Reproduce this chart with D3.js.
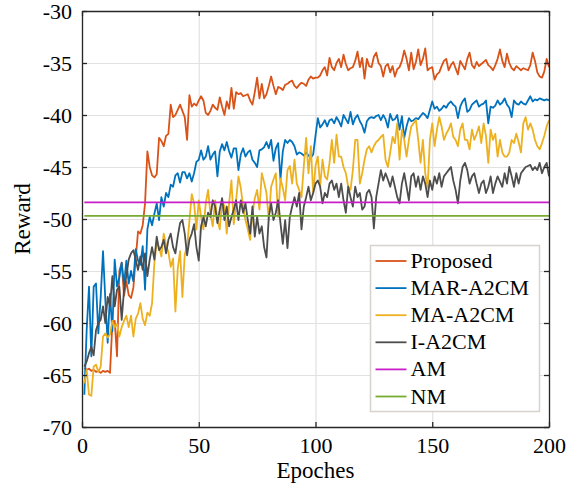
<!DOCTYPE html>
<html>
<head>
<meta charset="utf-8">
<script src="https://cdn.jsdelivr.net/npm/d3@7"></script>
<style>
  body { margin: 0; background: #fff; }
  text { font-family: "Liberation Serif", "Times New Roman", serif; fill: #000; }
</style>
</head>
<body>
<svg id="chart"></svg>
<script>
// chart size
const width = 571;
const height = 486;
const margin = { top: 11, right: 22, bottom: 59, left: 82 };

// data (epochs 1..200)
const epochs = d3.range(1, 201);
const xTicks = [0, 50, 100, 150, 200];
const yTicks = [-70, -65, -60, -55, -50, -45, -40, -35, -30];

const proposed = [
  -64.3,-64.5,-64.4,-64.6,-64.5,-64.7,-64.6,-64.8,-64.6,-64.7,
  -64.6,-64.8,-60.0,-59.8,-63.2,-55.0,-54.2,-57.4,-56.0,-57.3,
  -57.6,-56.6,-53.8,-51.2,-51.4,-50.6,-48.5,-43.5,-45.0,-45.8,
  -46.0,-45.7,-42.2,-42.5,-43.0,-42.0,-41.8,-39.0,-40.2,-40.0,
  -39.5,-39.0,-39.6,-40.2,-42.4,-38.1,-39.2,-38.9,-39.1,-38.6,
  -38.2,-38.6,-39.8,-40.0,-39.6,-39.0,-39.3,-39.5,-38.3,-39.2,
  -40.0,-38.7,-39.4,-37.4,-39.4,-37.8,-38.0,-37.9,-38.2,-38.1,
  -38.0,-38.6,-39.0,-37.8,-36.4,-38.4,-37.0,-38.4,-38.0,-37.2,
  -36.3,-37.2,-38.0,-37.3,-37.4,-37.6,-37.1,-37.0,-36.8,-36.7,
  -37.2,-37.4,-37.1,-36.9,-37.0,-37.2,-36.6,-36.3,-36.5,-36.4,
  -36.4,-36.2,-35.7,-35.4,-36.2,-34.5,-35.4,-35.7,-35.0,-34.6,
  -35.4,-34.2,-35.1,-35.7,-35.5,-35.4,-34.8,-33.9,-35.4,-34.5,
  -36.5,-34.6,-35.3,-35.4,-34.4,-34.0,-35.0,-35.3,-36.3,-35.3,
  -35.1,-35.9,-35.3,-36.3,-35.6,-35.4,-34.8,-33.8,-34.6,-35.7,
  -34.0,-35.6,-34.9,-33.7,-35.2,-34.6,-33.6,-35.7,-35.5,-35.4,
  -36.6,-36.1,-35.9,-35.3,-34.8,-34.6,-35.7,-35.2,-34.9,-35.5,
  -36.1,-34.8,-35.2,-35.6,-34.6,-34.0,-35.2,-35.5,-34.9,-35.3,
  -35.1,-34.9,-34.7,-35.2,-35.4,-35.7,-35.2,-34.6,-33.7,-34.8,
  -35.4,-34.1,-35.0,-35.5,-35.7,-35.3,-35.5,-35.7,-35.5,-35.6,
  -35.7,-35.2,-34.0,-34.8,-35.9,-36.3,-36.4,-35.8,-34.6,-35.4
];

const marA2cm = [
  -66.9,-60.7,-56.5,-63.2,-56.5,-56.2,-61.0,-57.5,-53.1,-57.8,
  -61.9,-57.2,-60.8,-53.9,-56.5,-55.6,-54.2,-56.3,-54.0,-56.2,
  -55.0,-56.0,-52.9,-54.0,-54.4,-52.6,-56.8,-51.0,-49.8,-50.6,
  -49.5,-48.5,-50.1,-47.9,-48.8,-47.5,-47.9,-46.7,-46.9,-45.8,
  -45.6,-46.5,-45.5,-45.5,-46.1,-45.6,-46.4,-45.6,-44.5,-44.3,
  -43.4,-44.3,-44.0,-43.0,-44.3,-43.8,-43.5,-45.9,-43.5,-42.8,
  -43.4,-42.6,-43.5,-44.1,-43.2,-43.2,-45.3,-43.8,-43.2,-44.0,
  -43.6,-43.4,-44.3,-44.6,-45.0,-43.4,-43.3,-43.1,-42.6,-43.2,
  -42.4,-44.4,-43.2,-42.7,-46.2,-43.5,-42.4,-42.7,-42.4,-42.6,
  -43.0,-43.8,-43.6,-43.7,-43.9,-43.6,-43.9,-44.1,-43.8,-42.0,
  -40.3,-41.2,-40.9,-40.5,-41.1,-40.5,-40.4,-40.8,-40.2,-40.6,
  -41.1,-40.0,-40.4,-40.8,-39.7,-40.9,-40.3,-40.0,-40.6,-41.0,
  -41.7,-40.6,-40.3,-40.2,-40.3,-40.1,-40.0,-40.5,-40.0,-40.4,
  -41.2,-39.9,-40.5,-40.4,-40.0,-41.4,-40.1,-42.2,-41.1,-40.3,
  -40.6,-40.5,-40.3,-40.4,-40.1,-39.8,-40.0,-40.3,-39.5,-38.7,
  -39.4,-39.2,-39.6,-39.4,-39.1,-39.3,-38.9,-38.7,-39.0,-39.2,
  -40.3,-39.2,-38.7,-38.4,-39.7,-39.5,-39.0,-38.8,-38.6,-39.2,
  -39.0,-38.9,-38.6,-40.8,-39.2,-39.3,-39.1,-38.6,-39.0,-38.8,
  -38.4,-39.0,-39.3,-40.2,-38.6,-38.9,-39.0,-38.7,-38.9,-39.0,
  -38.6,-38.2,-38.7,-38.5,-38.6,-38.4,-38.5,-38.6,-38.5,-38.6
];

const maA2cm = [
  -65.8,-64.5,-66.9,-67.0,-64.2,-64.0,-64.7,-64.2,-61.3,-61.0,
  -61.4,-61.1,-59.8,-60.4,-60.1,-61.3,-60.4,-59.8,-59.3,-60.4,
  -59.3,-61.3,-59.6,-59.1,-58.1,-59.6,-60.2,-59.0,-59.3,-58.1,
  -54.2,-52.3,-52.7,-53.6,-51.4,-52.5,-53.2,-54.6,-53.8,-58.9,
  -54.8,-53.1,-57.5,-53.4,-52.7,-50.2,-47.6,-48.5,-51.0,-48.2,
  -49.8,-51.0,-48.5,-47.2,-49.5,-50.7,-48.2,-50.1,-51.0,-48.2,
  -48.8,-51.4,-48.5,-46.3,-50.5,-48.2,-45.9,-47.0,-48.8,-50.1,
  -51.0,-52.0,-49.5,-48.0,-47.2,-49.1,-45.6,-46.5,-47.5,-50.1,
  -46.9,-46.2,-45.6,-49.8,-46.1,-47.0,-48.2,-45.3,-44.9,-46.6,
  -44.3,-46.6,-47.2,-47.9,-44.9,-42.2,-45.6,-43.0,-47.5,-44.9,
  -44.0,-46.9,-44.3,-45.9,-46.2,-44.6,-42.4,-44.6,-41.9,-44.0,
  -44.0,-45.0,-45.6,-46.9,-47.2,-45.3,-42.4,-42.4,-46.6,-45.6,
  -44.3,-43.3,-43.0,-43.6,-43.0,-42.6,-42.4,-42.1,-41.9,-44.3,
  -45.0,-43.6,-42.1,-42.7,-40.8,-44.3,-41.4,-42.4,-44.0,-42.4,
  -41.1,-40.8,-40.5,-42.4,-44.6,-42.4,-45.6,-47.0,-42.4,-40.8,
  -43.0,-41.4,-40.2,-41.1,-42.4,-41.8,-41.4,-40.8,-42.1,-42.4,
  -43.0,-41.4,-40.8,-42.4,-42.4,-43.3,-41.4,-42.4,-41.8,-41.1,
  -42.7,-40.8,-42.0,-44.6,-41.4,-42.4,-41.8,-44.0,-42.4,-43.6,
  -44.0,-44.0,-43.6,-42.4,-42.7,-41.8,-42.6,-43.6,-40.8,-40.2,
  -41.4,-40.8,-41.4,-42.4,-43.0,-43.3,-42.7,-42.0,-41.1,-40.5
];

const iA2cm = [
  -64.2,-63.7,-62.9,-62.3,-63.1,-60.7,-60.0,-59.7,-58.4,-60.0,
  -57.5,-58.4,-55.5,-58.4,-56.8,-56.5,-59.7,-56.8,-55.5,-53.9,
  -53.3,-53.0,-53.9,-54.9,-53.6,-54.9,-53.3,-55.5,-53.9,-52.7,
  -53.9,-51.7,-53.0,-52.7,-52.0,-53.3,-52.0,-51.4,-52.7,-53.3,
  -51.7,-50.4,-50.1,-51.4,-53.5,-52.0,-51.4,-50.5,-52.7,-54.0,
  -50.7,-49.8,-50.7,-49.4,-49.8,-48.2,-48.8,-50.4,-49.1,-48.0,
  -50.1,-48.8,-50.7,-49.8,-49.1,-48.2,-50.1,-48.2,-49.4,-48.5,
  -50.1,-51.4,-48.8,-51.7,-49.8,-51.4,-50.7,-52.7,-53.7,-49.8,
  -48.5,-50.1,-49.4,-48.2,-50.4,-52.4,-50.1,-52.8,-49.8,-48.8,
  -47.9,-48.8,-47.5,-51.0,-48.8,-47.9,-46.9,-48.2,-47.5,-46.6,
  -46.3,-46.9,-48.5,-47.5,-47.9,-46.6,-46.3,-47.2,-46.6,-47.9,
  -46.6,-48.2,-49.4,-46.9,-47.9,-48.8,-46.9,-47.9,-47.5,-49.1,
  -48.8,-47.5,-47.2,-47.9,-50.9,-47.9,-46.6,-45.3,-46.3,-45.6,
  -46.2,-46.9,-45.9,-46.9,-47.9,-48.5,-46.6,-45.6,-46.9,-48.2,
  -45.9,-45.6,-46.9,-45.9,-47.2,-45.9,-46.6,-47.9,-46.3,-47.2,
  -45.9,-46.6,-45.6,-46.9,-45.9,-45.6,-45.3,-45.0,-46.3,-47.2,
  -48.5,-46.3,-45.0,-44.6,-45.3,-46.6,-45.9,-45.6,-46.6,-47.5,
  -46.6,-46.3,-47.5,-46.9,-45.9,-47.5,-46.6,-45.9,-46.4,-46.9,
  -45.6,-46.6,-45.0,-45.9,-46.9,-45.6,-46.6,-45.6,-45.3,-45.0,
  -44.9,-44.8,-45.3,-45.0,-45.3,-44.6,-45.6,-45.0,-44.6,-45.9
];

// constant baselines
const amLevel = -48.4;
const nmLevel = -49.7;

const seriesNames = ["Proposed", "MAR-A2CM", "MA-A2CM", "I-A2CM", "AM", "NM"];
const seriesColors = ["#D95319", "#0072BD", "#EDB120", "#4D4D4D", "#C81EC8", "#77AC30"];

const svg = d3.select("#chart")
  .attr("width", width)
  .attr("height", height);

const x = d3.scaleLinear().domain([0, 200]).range([margin.left, width - margin.right]);
const y = d3.scaleLinear().domain([-70, -30]).range([height - margin.bottom, margin.top]);

const plotW = width - margin.left - margin.right;
const plotH = height - margin.top - margin.bottom;
const axisColor = "#262626";
const fmt = d => String(d); // plain hyphen like the original

// grid
svg.append("g")
  .attr("transform", `translate(0,${height - margin.bottom})`)
  .call(d3.axisBottom(x).tickValues(xTicks).tickSize(-plotH).tickFormat(""))
  .call(g => g.select(".domain").remove())
  .call(g => g.selectAll("line").attr("stroke", "#e1e1e1").attr("stroke-width", 1.2));

svg.append("g")
  .attr("transform", `translate(${margin.left},0)`)
  .call(d3.axisLeft(y).tickValues(yTicks).tickSize(-plotW).tickFormat(""))
  .call(g => g.select(".domain").remove())
  .call(g => g.selectAll("line").attr("stroke", "#e1e1e1").attr("stroke-width", 1.2));

// series lines
const line = d3.line().x((d, i) => x(epochs[i])).y(d => y(d));
const dataSets = [proposed, marA2cm, maA2cm, iA2cm];

const plot = svg.append("g");
dataSets.forEach((data, i) => {
  plot.append("path")
    .datum(data)
    .attr("fill", "none")
    .attr("stroke", seriesColors[i])
    .attr("stroke-width", 1.8)
    .attr("stroke-linejoin", "round")
    .attr("d", line);
});

[amLevel, nmLevel].forEach((lvl, i) => {
  plot.append("line")
    .attr("x1", x(1)).attr("x2", x(200))
    .attr("y1", y(lvl)).attr("y2", y(lvl))
    .attr("stroke", seriesColors[4 + i])
    .attr("stroke-width", 1.8);
});

// axes, ticks pointing inward on all four sides
const styleAxis = g => {
  g.select(".domain").attr("stroke", axisColor).attr("stroke-width", 1.3);
  g.selectAll(".tick line").attr("stroke", axisColor).attr("stroke-width", 1.3);
  g.selectAll(".tick text")
    .attr("font-family", "Liberation Serif")
    .attr("font-size", 22)
    .attr("fill", "#000");
};

svg.append("g")
  .attr("transform", `translate(0,${height - margin.bottom})`)
  .call(d3.axisBottom(x).tickValues(xTicks).tickFormat(fmt).tickSizeInner(-5).tickSizeOuter(0).tickPadding(10))
  .call(styleAxis);

svg.append("g")
  .attr("transform", `translate(0,${margin.top})`)
  .call(d3.axisTop(x).tickValues(xTicks).tickSizeInner(-5).tickSizeOuter(0).tickFormat(""))
  .call(styleAxis);

svg.append("g")
  .attr("transform", `translate(${margin.left},0)`)
  .call(d3.axisLeft(y).tickValues(yTicks).tickFormat(fmt).tickSizeInner(-5).tickSizeOuter(0).tickPadding(10))
  .call(styleAxis);

svg.append("g")
  .attr("transform", `translate(${width - margin.right},0)`)
  .call(d3.axisRight(y).tickValues(yTicks).tickSizeInner(-5).tickSizeOuter(0).tickFormat(""))
  .call(styleAxis);

// axis labels
svg.append("text")
  .attr("x", x(100))
  .attr("y", 478)
  .attr("text-anchor", "middle")
  .attr("font-size", 23)
  .text("Epoches");

svg.append("text")
  .attr("transform", `translate(30,${y(-50)}) rotate(-90)`)
  .attr("text-anchor", "middle")
  .attr("font-size", 23)
  .text("Reward");

// legend
const legend = svg.append("g").attr("transform", "translate(370.5,245.5)");
legend.append("rect")
  .attr("width", 169)
  .attr("height", 166)
  .attr("fill", "#fff")
  .attr("stroke", "#d6d3cc")
  .attr("stroke-width", 1.5);

seriesNames.forEach((name, i) => {
  const ry = 15.5 + i * 27.1;
  legend.append("line")
    .attr("x1", 5).attr("x2", 36)
    .attr("y1", ry).attr("y2", ry)
    .attr("stroke", seriesColors[i])
    .attr("stroke-width", 1.8);
  legend.append("text")
    .attr("x", 40)
    .attr("y", ry + 7)
    .attr("font-size", 22)
    .text(name);
});
</script>
</body>
</html>
